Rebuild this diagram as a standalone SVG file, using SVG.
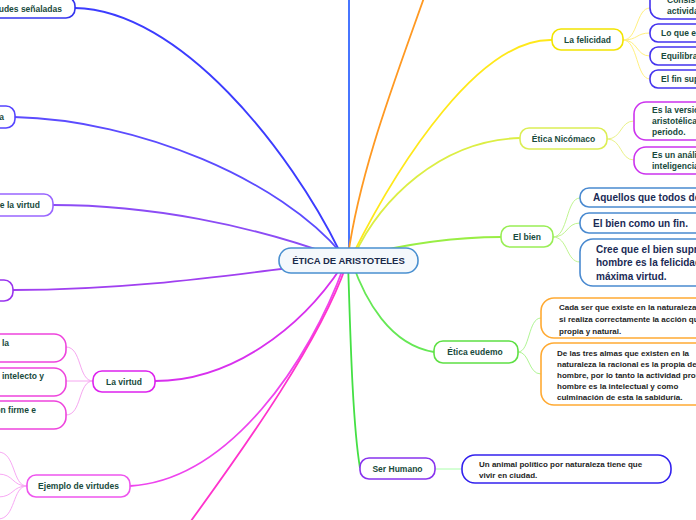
<svg xmlns="http://www.w3.org/2000/svg" width="696" height="520" viewBox="0 0 696 520">
<style>
.n{fill:#fff;stroke-width:1.6}
.t{font-family:"Liberation Sans",Arial,sans-serif;font-weight:bold;font-size:8.5px;fill:#184a3c}
.tk{font-family:"Liberation Sans",Arial,sans-serif;font-weight:bold;font-size:8px;fill:#1e1e1e}
.tb{font-family:"Liberation Sans",Arial,sans-serif;font-weight:bold;font-size:10px;fill:#1a2a55}
.m{fill:none;stroke-width:1.8}
.c{fill:none;stroke-width:1}
</style>
<rect width="696" height="520" fill="#fff"/>
<g id="connectors">
<path class="m" stroke="#3c3cff" d="M75,8 C180,10 290,150 340,252"/>
<path class="m" stroke="#5c4cff" d="M14,117 C140,120 280,180 342,254"/>
<path class="m" stroke="#8c4cf5" d="M53,205 C150,205 250,225 335,256"/>
<path class="m" stroke="#a040f0" d="M13,290 C150,290 260,270 340,262"/>
<path class="m" stroke="#d830ee" d="M155,381 C230,381 300,330 342,266"/>
<path class="m" stroke="#ee44ee" d="M130,486 C230,480 310,360 344,266"/>
<path class="m" stroke="#ff33cc" d="M188,525 C250,440 320,340 346,266"/>
<path class="m" stroke="#3366ff" d="M349,0 L349,258"/>
<path class="m" stroke="#ff9922" d="M425,-5 C395,80 360,170 348,256"/>
<path class="m" stroke="#ffe81a" d="M552,40 C480,38 400,160 352,256"/>
<path class="m" stroke="#dcee44" d="M520,138 C440,140 380,200 354,256"/>
<path class="m" stroke="#99ee44" d="M501,237 C450,237 400,245 350,258"/>
<path class="m" stroke="#66e855" d="M434,352 C390,345 365,300 352,262"/>
<path class="m" stroke="#44e044" d="M360,468 C352,420 350,320 348,262"/>
<g stroke="#f6a6f0">
<path class="c" d="M93,381 C78,381 82,347 66,347"/>
<path class="c" d="M93,381 L66,381"/>
<path class="c" d="M93,381 C78,381 82,415 66,415"/>
</g>
<g stroke="#f8a8f4">
<path class="c" d="M27,486 C12,486 16,452 -2,452"/>
<path class="c" d="M27,486 C12,486 14,474 -2,474"/>
<path class="c" d="M27,486 C12,486 14,497 -2,497"/>
<path class="c" d="M27,486 C12,486 16,519 -2,519"/>
</g>
<g stroke="#fff080">
<path class="c" d="M623,40 C638,40 636,8 650,8"/>
<path class="c" d="M623,40 C638,40 636,33 650,33"/>
<path class="c" d="M623,40 C638,40 636,56 650,56"/>
<path class="c" d="M623,40 C638,40 636,79 650,79"/>
</g>
<g stroke="#eaf28a">
<path class="c" d="M607,139 C622,139 620,121 634,121"/>
<path class="c" d="M607,139 C622,139 620,160 634,160"/>
</g>
<g stroke="#c0f590">
<path class="c" d="M553,237 C568,237 566,198 580,198"/>
<path class="c" d="M553,237 C568,237 566,223 580,223"/>
<path class="c" d="M553,237 C568,237 566,262 580,262"/>
</g>
<g stroke="#b0f594">
<path class="c" d="M518,352 C530,352 528,318 541,318"/>
<path class="c" d="M518,352 C530,352 528,374 541,374"/>
</g>
<path class="c" stroke="#aaffaa" stroke-width="1.5" d="M435,469 L462,469"/>
</g>
<g id="center">
<rect x="279" y="248" width="139" height="25" rx="12" fill="#f4f8fc" stroke="#4a90d0" stroke-width="1.6"/>
<text x="348.5" y="264" text-anchor="middle" font-family="Liberation Sans,Arial,sans-serif" font-weight="bold" font-size="9.5" fill="#1a2a4a">ÉTICA DE ARISTOTELES</text>
</g>
<g id="n-senaladas">
<rect class="n" x="-60" y="-3" width="135" height="21" rx="9" stroke="#3333ee"/>
<text class="t" x="62" y="12" text-anchor="end">Virtudes señaladas</text>
</g>
<g id="n-a">
<rect class="n" x="-80" y="106" width="95" height="22" rx="9" stroke="#5544ff"/>
<text class="t" x="4" y="120" text-anchor="end">Virtud ética</text>
</g>
<g id="n-def">
<rect class="n" x="-60" y="194" width="113" height="22" rx="9" stroke="#9966ff"/>
<text class="t" x="40" y="208" text-anchor="end">Definición de la virtud</text>
</g>
<g id="n-p">
<rect class="n" x="-80" y="280" width="93" height="21" rx="9" stroke="#9933ee"/>
</g>
<g id="n-virtud">
<rect class="n" x="93" y="371" width="62" height="21" rx="9" stroke="#dd22ee"/>
<text class="t" x="124" y="384.5" text-anchor="middle">La virtud</text>
</g>
<g id="n-v1">
<rect class="n" x="-80" y="334" width="146" height="28" rx="12" stroke="#ee44dd"/>
<text class="t" x="9" y="346" text-anchor="end">hábito de la</text>
</g>
<g id="n-v2">
<rect class="n" x="-80" y="368" width="146" height="28" rx="12" stroke="#ee44dd"/>
<text class="t" x="44" y="379" text-anchor="end">Perfección del intelecto y</text>
</g>
<g id="n-v3">
<rect class="n" x="-80" y="401" width="146" height="28" rx="12" stroke="#ee44dd"/>
<text class="t" x="36" y="413" text-anchor="end">Disposición firme e</text>
</g>
<g id="n-ejemplo">
<rect class="n" x="27" y="475" width="103" height="22" rx="9" stroke="#ee55ee"/>
<text class="t" x="78.5" y="489" text-anchor="middle">Ejemplo de virtudes</text>
</g>
<g id="n-felicidad">
<rect class="n" x="552" y="29" width="71" height="21" rx="9" stroke="#f2e400"/>
<text class="t" x="587.5" y="42.5" text-anchor="middle">La felicidad</text>
</g>
<g id="n-f1">
<rect class="n" x="650" y="-12" width="90" height="31" rx="11" stroke="#4433ee"/>
<text class="t" x="667" y="3">Consiste en la</text>
<text class="t" x="667" y="14">actividad</text>
</g>
<g id="n-f2">
<rect class="n" x="650" y="24" width="90" height="18" rx="8" stroke="#4433ee"/>
<text class="t" x="661" y="36">Lo que es bueno</text>
</g>
<g id="n-f3">
<rect class="n" x="650" y="47" width="90" height="18" rx="8" stroke="#4433ee"/>
<text class="t" x="661" y="59">Equilibrado</text>
</g>
<g id="n-f4">
<rect class="n" x="650" y="70" width="90" height="18" rx="8" stroke="#4433ee"/>
<text class="t" x="661" y="82">El fin supremo</text>
</g>
<g id="n-nicomaco">
<rect class="n" x="520" y="128" width="87" height="21" rx="9" stroke="#dcee55"/>
<text class="t" x="563.5" y="141.5" text-anchor="middle">Ética Nicómaco</text>
</g>
<g id="n-nc1">
<rect class="n" x="634" y="102" width="100" height="38" rx="12" stroke="#cc33ee"/>
<text class="t" x="652" y="113">Es la versión</text>
<text class="t" x="652" y="124">aristotélica de</text>
<text class="t" x="652" y="135">periodo.</text>
</g>
<g id="n-nc2">
<rect class="n" x="634" y="147" width="100" height="27" rx="12" stroke="#cc33ee"/>
<text class="t" x="652" y="158">Es un análisis</text>
<text class="t" x="652" y="169">inteligencia</text>
</g>
<g id="n-bien">
<rect class="n" x="501" y="226" width="52" height="21" rx="9" stroke="#99ee55"/>
<text class="t" x="527" y="239.5" text-anchor="middle" font-size="8">El bien</text>
</g>
<g id="n-b1">
<rect class="n" x="580" y="188" width="140" height="19" rx="9" stroke="#4a8ad0"/>
<text class="tb" x="593" y="201">Aquellos que todos desean</text>
</g>
<g id="n-b2">
<rect class="n" x="580" y="213" width="140" height="20" rx="9" stroke="#4a8ad0"/>
<text class="tb" x="593" y="227">El bien como un fin.</text>
</g>
<g id="n-b3">
<rect class="n" x="580" y="239" width="140" height="47" rx="13" stroke="#4a8ad0"/>
<text class="tb" x="596" y="253">Cree que el bien supremo del</text>
<text class="tb" x="596" y="266">hombre es la felicidad y la</text>
<text class="tb" x="596" y="280">máxima virtud.</text>
</g>
<g id="n-eudemo">
<rect class="n" x="434" y="341" width="84" height="22" rx="9" stroke="#5ee044"/>
<text class="t" x="475" y="355" text-anchor="middle">Ética eudemo</text>
</g>
<g id="n-e1">
<rect class="n" x="541" y="298" width="180" height="40" rx="13" stroke="#ffaa33"/>
<text class="tk" x="559" y="310">Cada ser que existe en la naturaleza</text>
<text class="tk" x="559" y="322">si realiza correctamente la acción que</text>
<text class="tk" x="559" y="334">propia y natural.</text>
</g>
<g id="n-e2">
<rect class="n" x="541" y="343" width="180" height="62" rx="13" stroke="#ffaa33"/>
<text class="tk" x="557" y="356">De las tres almas que existen en la</text>
<text class="tk" x="557" y="367">naturaleza la racional es la propia del</text>
<text class="tk" x="557" y="378">hombre, por lo tanto la actividad propia</text>
<text class="tk" x="557" y="389">hombre es la intelectual y como</text>
<text class="tk" x="557" y="400">culminación de esta la sabiduría.</text>
</g>
<g id="n-humano">
<rect class="n" x="360" y="458" width="75" height="21" rx="9" stroke="#8833ee"/>
<text class="t" x="397.5" y="471.5" text-anchor="middle">Ser Humano</text>
</g>
<g id="n-h1">
<rect class="n" x="462" y="455" width="209" height="28" rx="13" stroke="#3322ee"/>
<text class="tk" x="479" y="467">Un animal político por naturaleza tiene que</text>
<text class="tk" x="479" y="478">vivir en ciudad.</text>
</g>
</svg>
